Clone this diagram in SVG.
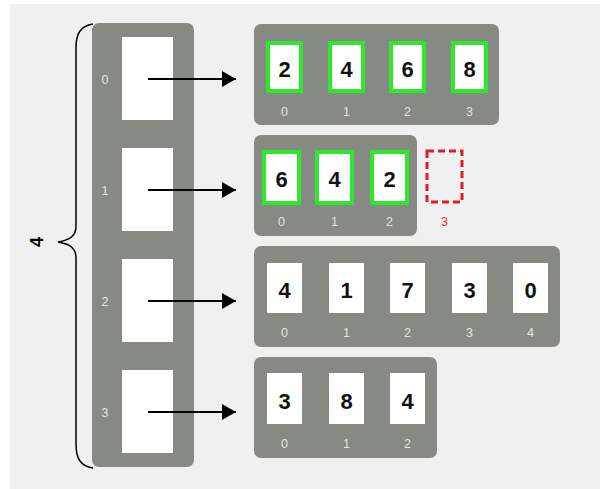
<svg xmlns="http://www.w3.org/2000/svg" width="600" height="489" viewBox="0 0 600 489">
  <defs>
    <marker id="head" markerWidth="14" markerHeight="18" refX="14" refY="9" orient="auto" markerUnits="userSpaceOnUse">
      <path d="M0,1 L14,9 L0,17 Z" fill="#000"/>
    </marker>
  </defs>
  <style>
    .panel { fill: #878985; }
    .slot { fill: #ffffff; }
    .cell { fill: #ffffff; }
    .hit { fill: #ffffff; stroke: #2ee82e; stroke-width: 4; }
    .gap { fill: none; stroke: #e01a2a; stroke-width: 3; stroke-dasharray: 7 4; }
    .idx { font-family: "Liberation Sans", Arial, sans-serif; font-size: 12.5px; fill: #e4e4e4; text-anchor: middle; }
    .idx-red { font-family: "Liberation Sans", Arial, sans-serif; font-size: 12.5px; fill: #e0343c; text-anchor: middle; }
    .val { font-family: "Liberation Sans", Arial, sans-serif; font-size: 22px; font-weight: bold; fill: #111; text-anchor: middle; }
    .link { stroke: #000; stroke-width: 2; fill: none; }
  </style>

  <rect x="10" y="4" width="590" height="485" fill="#f0f0f0"/>

  <!-- outer array of row references -->
  <g id="rows">
    <rect class="panel" x="92" y="23" width="102" height="444" rx="7"/>
    <rect class="slot" x="122" y="37" width="51" height="83"/>
    <rect class="slot" x="122" y="148" width="51" height="83"/>
    <rect class="slot" x="122" y="259" width="51" height="83"/>
    <rect class="slot" x="122" y="370" width="51" height="83"/>
    <text class="idx" x="105" y="84">0</text>
    <text class="idx" x="105" y="195">1</text>
    <text class="idx" x="105" y="306">2</text>
    <text class="idx" x="105" y="417">3</text>
  </g>

  <!-- length brace -->
  <g id="length">
    <path d="M93,24 C80,26 76,34 76,48 L76,226 C76,236 70,240 58,242 C70,244 76,248 76,258 L76,444 C76,458 80,466 93,468" fill="none" stroke="#000" stroke-width="1.5"/>
    <text x="0" y="0" transform="translate(43,242) rotate(-90)" font-family="Liberation Sans, Arial, sans-serif" font-size="18" font-weight="bold" text-anchor="middle" fill="#000">4</text>
  </g>

  <!-- row 0 -->
  <g id="row0">
    <rect class="panel" x="254" y="24" width="245" height="101" rx="7"/>
    <rect class="hit" x="268" y="43" width="33" height="48"/>
    <rect class="hit" x="330" y="43" width="33" height="48"/>
    <rect class="hit" x="391" y="43" width="33" height="48"/>
    <rect class="hit" x="453" y="43" width="33" height="48"/>
    <text class="val" x="284.5" y="77">2</text>
    <text class="val" x="346.5" y="77">4</text>
    <text class="val" x="407.5" y="77">6</text>
    <text class="val" x="469.5" y="77">8</text>
    <text class="idx" x="284.5" y="116">0</text>
    <text class="idx" x="346.5" y="116">1</text>
    <text class="idx" x="407.5" y="116">2</text>
    <text class="idx" x="469.5" y="116">3</text>
  </g>

  <!-- row 1 -->
  <g id="row1">
    <rect class="panel" x="254" y="135" width="163" height="101" rx="7"/>
    <rect class="hit" x="264" y="152" width="35" height="51"/>
    <rect class="hit" x="317" y="152" width="35" height="51"/>
    <rect class="hit" x="372" y="152" width="35" height="51"/>
    <rect class="gap" x="427" y="151" width="35" height="51"/>
    <text class="val" x="281.5" y="187">6</text>
    <text class="val" x="334.5" y="187">4</text>
    <text class="val" x="389.5" y="187">2</text>
    <text class="idx" x="281.5" y="226">0</text>
    <text class="idx" x="334.5" y="226">1</text>
    <text class="idx" x="389.5" y="226">2</text>
    <text class="idx-red" x="444.5" y="226">3</text>
  </g>

  <!-- row 2 -->
  <g id="row2">
    <rect class="panel" x="254" y="246" width="306" height="101" rx="7"/>
    <rect class="cell" x="267" y="263" width="35" height="50"/>
    <rect class="cell" x="329" y="263" width="35" height="50"/>
    <rect class="cell" x="390" y="263" width="35" height="50"/>
    <rect class="cell" x="452" y="263" width="35" height="50"/>
    <rect class="cell" x="513" y="263" width="35" height="50"/>
    <text class="val" x="284.5" y="298">4</text>
    <text class="val" x="346.5" y="298">1</text>
    <text class="val" x="407.5" y="298">7</text>
    <text class="val" x="469.5" y="298">3</text>
    <text class="val" x="530.5" y="298">0</text>
    <text class="idx" x="284.5" y="337">0</text>
    <text class="idx" x="346.5" y="337">1</text>
    <text class="idx" x="407.5" y="337">2</text>
    <text class="idx" x="469.5" y="337">3</text>
    <text class="idx" x="530.5" y="337">4</text>
  </g>

  <!-- row 3 -->
  <g id="row3">
    <rect class="panel" x="254" y="357" width="183" height="101" rx="7"/>
    <rect class="cell" x="267" y="373" width="35" height="51"/>
    <rect class="cell" x="329" y="373" width="35" height="51"/>
    <rect class="cell" x="390" y="373" width="35" height="51"/>
    <text class="val" x="284.5" y="409">3</text>
    <text class="val" x="346.5" y="409">8</text>
    <text class="val" x="407.5" y="409">4</text>
    <text class="idx" x="284.5" y="448">0</text>
    <text class="idx" x="346.5" y="448">1</text>
    <text class="idx" x="407.5" y="448">2</text>
  </g>

  <!-- references from slots to row arrays -->
  <g id="connectors">
    <line class="link" x1="148" y1="79" x2="236" y2="79" marker-end="url(#head)"/>
    <line class="link" x1="148" y1="190" x2="236" y2="190" marker-end="url(#head)"/>
    <line class="link" x1="148" y1="301" x2="236" y2="301" marker-end="url(#head)"/>
    <line class="link" x1="148" y1="412" x2="236" y2="412" marker-end="url(#head)"/>
  </g>
</svg>
